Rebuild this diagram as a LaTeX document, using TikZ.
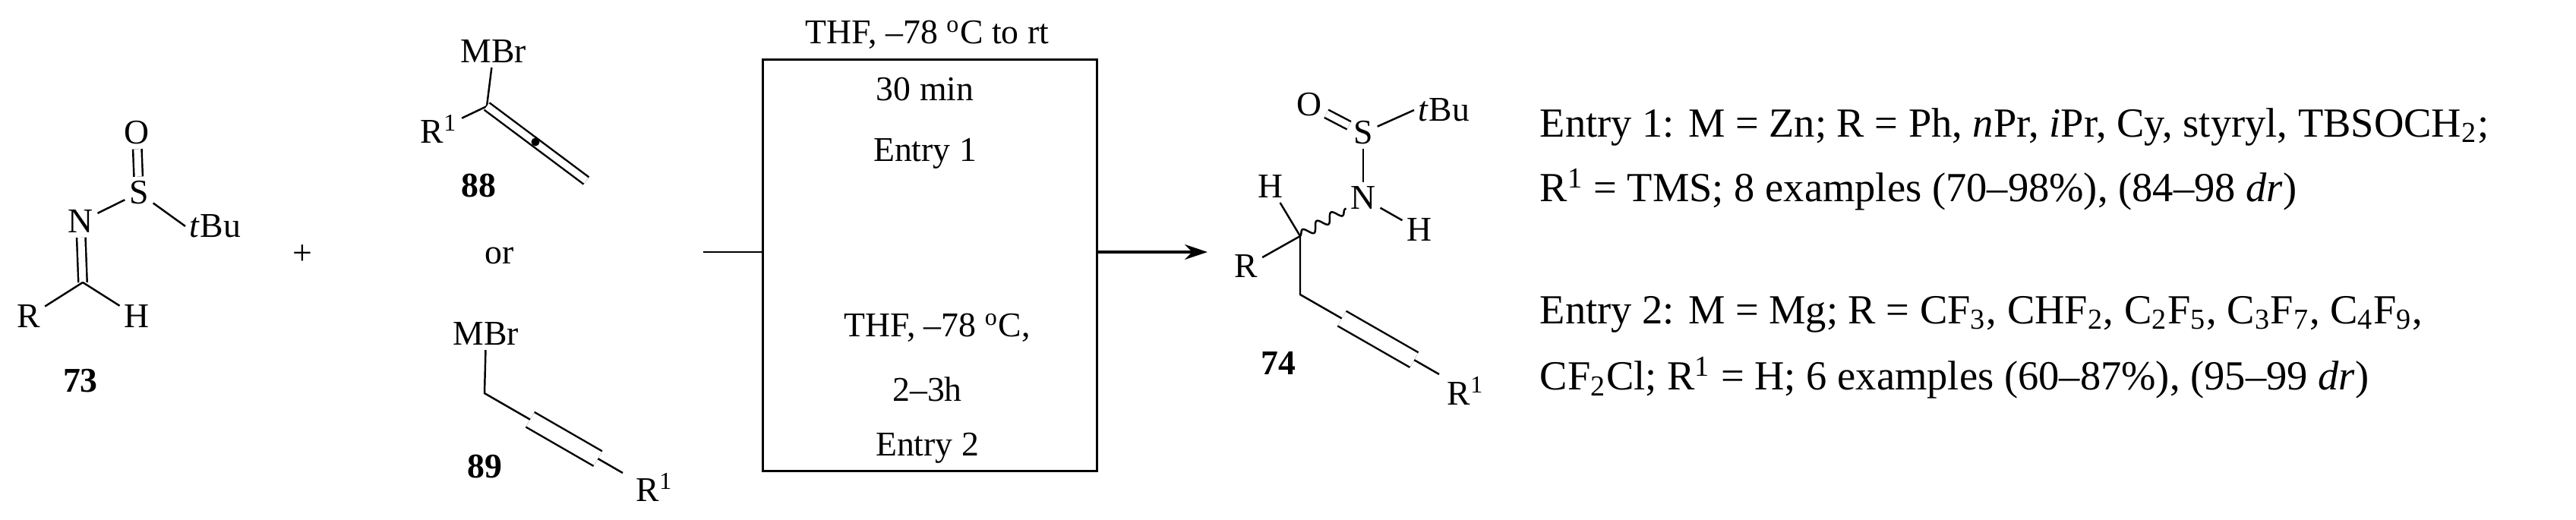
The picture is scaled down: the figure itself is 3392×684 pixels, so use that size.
\documentclass[tikz,border=0pt]{standalone}
\usepackage{fontspec}
\setmainfont{Liberation Serif}
\usetikzlibrary{decorations.pathmorphing,arrows.meta,calc}
\begin{document}
\begin{tikzpicture}[x=0.01cm,y=-0.01cm,
  atom/.style={inner sep=1.5pt,font=\fontsize{13}{15}\selectfont},
  lab/.style={inner sep=1pt,font=\fontsize{13}{15}\selectfont\bfseries},
  txt/.style={inner sep=0pt,font=\fontsize{13}{15}\selectfont},
  rtxt/.style={inner sep=0pt,anchor=west,font=\fontsize{15.5}{18}\selectfont},
  bond/.style={line width=0.7pt},
  dbl/.style={line width=0.7pt,double,double distance=0.09cm},
  trip/.style={line width=0.7pt,double,double distance=0.2cm}]
\useasboundingbox (0,0) rectangle (3392,684);
% 73
\node[atom] (O1) at (180,175) {O};
\node[atom] (S1) at (183,254) {S};
\node[atom] (N1) at (106,292) {N};
\node[atom,anchor=west] (tBu1) at (244,298) {\textit{t}Bu};
\coordinate (C1) at (109,372);
\node[atom] (R1) at (38,417) {R};
\node[atom] (H1) at (180,417) {H};
\node[lab] (L73) at (106,502) {73};
\draw[dbl] (O1) -- (S1);
\draw[bond] (S1) -- (N1);
\draw[bond] (S1) -- (tBu1.west);
\draw[dbl] (N1) -- (C1);
\draw[bond] (C1) -- (R1);
\draw[bond] (C1) -- (H1);
\node[txt] (plus) at (398,336) {+};
% 88
\node[atom] (M88) at (650,68) {MBr};
\coordinate (C88) at (641,140);
\node[atom] (R88) at (578,170) {R\textsuperscript{1}};
\coordinate (E88) at (772,238);
\draw[bond] (M88) -- (C88);
\draw[bond] (R88) -- (C88);
\draw[dbl] (C88) -- (E88);
\fill (705,187) circle (0.055cm);
\node[lab] (L88) at (630,245) {88};
\node[txt] (or) at (658,337) {or};
% 89
\node[atom] (M89) at (640,440) {MBr};
\coordinate (C89) at (638,518);
\node[atom] (R89) at (862,642) {R\textsuperscript{1}};
\coordinate (E89) at (820,623);
\draw[bond] (M89) -- (C89) -- (E89);
\draw[trip] ($(C89)!0.33!(E89)$) -- ($(C89)!0.82!(E89)$);
\node[lab] (L89) at (638,615) {89};
% conditions
\coordinate (D0) at (926,332);
\coordinate (D1) at (1005,332);
\draw[bond] (D0) -- (D1);
\node[draw,line width=0.8pt,minimum width=4.39cm,minimum height=5.41cm,inner sep=0] (box) at (1224.5,349.5) {};
\node[txt] (c1) at (1221,46) {THF, –78 \textsuperscript{o}C to rt};
\node[txt] (c2) at (1218,118) {30 min};
\node[txt] (c3) at (1218,202) {Entry 1};
\node[txt] (c4) at (1234,432) {THF, –78 \textsuperscript{o}C,};
\node[txt] (c5) at (1221,513) {2–3h};
\node[txt] (c6) at (1221,590) {Entry 2};
\coordinate (A1) at (1590,332);
\draw[line width=0.9pt,-{Stealth[length=0.3cm,width=0.2cm]}] (box.east |- D1) -- (A1);
% 74
\node[atom] (O2) at (1724,138) {O};
\node[atom] (S2) at (1795,175) {S};
\node[atom,anchor=west] (tBu2) at (1862,145) {\textit{t}Bu};
\node[atom] (N2) at (1795,261) {N};
\node[atom] (HN) at (1869,303) {H};
\coordinate (C2) at (1712,311);
\node[atom] (HC) at (1673,246) {H};
\node[atom] (R2) at (1641,351) {R};
\coordinate (CH2) at (1712,388);
\node[atom] (R12) at (1930,515) {R\textsuperscript{1}};
\coordinate (E74) at (1895,493);
\node[lab] (L74) at (1683,478) {74};
\draw[dbl] (O2) -- (S2);
\draw[bond] (S2) -- (tBu2.west);
\draw[bond] (S2) -- (N2);
\draw[bond] (N2) -- (HN);
\draw[bond,decorate,decoration={snake,amplitude=0.6mm,segment length=2.2mm}] (C2) -- (N2);
\draw[bond] (C2) -- (HC);
\draw[bond] (C2) -- (R2);
\draw[bond] (C2) -- (CH2) -- (E74);
\draw[trip] ($(CH2)!0.3!(E74)$) -- ($(CH2)!0.82!(E74)$);
% right text
\node[rtxt] (e1a) at (2027,167) {Entry 1: M = Zn; R = Ph, \textit{n}Pr, \textit{i}Pr, Cy, styryl, TBSOCH\textsubscript{2};};
\node[rtxt] (e1b) at (2027,250) {R\textsuperscript{1} = TMS; 8 examples (70–98\%), (84–98 \textit{dr})};
\node[rtxt] (e2a) at (2027,414) {Entry 2: M = Mg; R = CF\textsubscript{3}, CHF\textsubscript{2}, C\textsubscript{2}F\textsubscript{5}, C\textsubscript{3}F\textsubscript{7}, C\textsubscript{4}F\textsubscript{9},};
\node[rtxt] (e2b) at (2027,498) {CF\textsubscript{2}Cl; R\textsuperscript{1} = H; 6 examples (60–87\%), (95–99 \textit{dr})};
\end{tikzpicture}
\end{document}
